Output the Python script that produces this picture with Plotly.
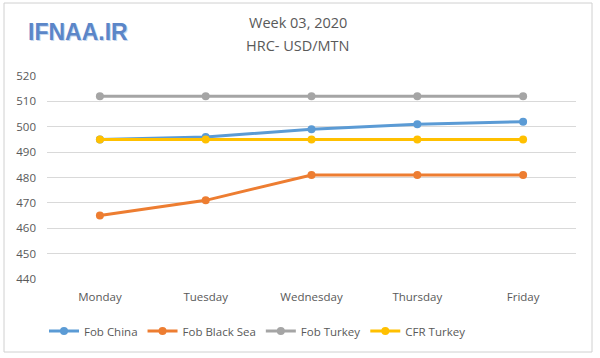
import plotly.graph_objects as go

days = ["Monday", "Tuesday", "Wednesday", "Thursday", "Friday"]
fob_china = [495, 496, 499, 501, 502]
fob_black_sea = [465, 471, 481, 481, 481]
fob_turkey = [512, 512, 512, 512, 512]
cfr_turkey = [495, 495, 495, 495, 495]
y_ticks = [440, 450, 460, 470, 480, 490, 500, 510, 520]

series = [
    ("Fob China", fob_china, "#5B9BD5"),
    ("Fob Black Sea", fob_black_sea, "#ED7D31"),
    ("Fob Turkey", fob_turkey, "#A5A5A5"),
    ("CFR Turkey", cfr_turkey, "#FFC000"),
]

fig = go.Figure()
for name, vals, col in series:
    fig.add_trace(go.Scatter(x=days, y=vals, name=name, mode="lines+markers",
                             line=dict(color=col, width=3),
                             marker=dict(color=col, size=8)))

L, R, T, B = 47, 24, 76, 79
W, H = 600, 358
pw, ph = W - L - R, H - T - B

def px(x):
    return (x - L) / pw

def py(y):
    return (H - B - y) / ph

fig.update_layout(
    width=W, height=H,
    margin=dict(l=L, r=R, t=T, b=B),
    paper_bgcolor="white", plot_bgcolor="white",
    font=dict(family="Open Sans", size=11, color="#595959"),
    showlegend=True,
    legend=dict(orientation="h", x=px(44), xanchor="left", y=py(331), yanchor="middle",
                font=dict(size=11.5, color="#595959"), tracegroupgap=0),
    xaxis=dict(type="category", range=[-0.5, 4.5], showgrid=False, showline=False,
               ticks="", ticklabelstandoff=9,
               tickfont=dict(size=11.5, color="#595959"), fixedrange=True),
    yaxis=dict(range=[440, 520], tickvals=y_ticks, showgrid=True, gridcolor="#D9D9D9",
               gridwidth=1, zeroline=False, showline=False, ticks="", ticklabelstandoff=10,
               tickfont=dict(size=11.5, color="#595959"), fixedrange=True),
    annotations=[
        dict(text="Week 03, 2020", x=px(298), y=py(22), xref="paper", yref="paper",
             xanchor="center", yanchor="middle",
             showarrow=False, font=dict(size=14.5, color="#595959")),
        dict(text="HRC- USD/MTN", x=px(298), y=py(45), xref="paper", yref="paper",
             xanchor="center", yanchor="middle",
             showarrow=False, font=dict(size=14.5, color="#595959")),
        dict(text="<b>IFNAA.IR</b>", x=px(79), y=py(33), xref="paper", yref="paper",
             xanchor="center", yanchor="middle",
             showarrow=False, font=dict(family="Liberation Sans", size=23, color="#C9D8EE")),
        dict(text="<b>IFNAA.IR</b>", x=px(78), y=py(32), xref="paper", yref="paper",
             xanchor="center", yanchor="middle",
             showarrow=False, font=dict(family="Liberation Sans", size=23, color="#5B86C8")),
    ],
    shapes=[
        dict(type="rect", xref="paper", yref="paper",
             x0=px(4), x1=px(592), y0=py(352), y1=py(3),
             line=dict(color="#D0D0D0", width=1), fillcolor="rgba(0,0,0,0)", layer="below"),
    ],
)

fig.write_html("out.html", config={"displayModeBar": False},
               post_script="document.body.style.margin='0';")
